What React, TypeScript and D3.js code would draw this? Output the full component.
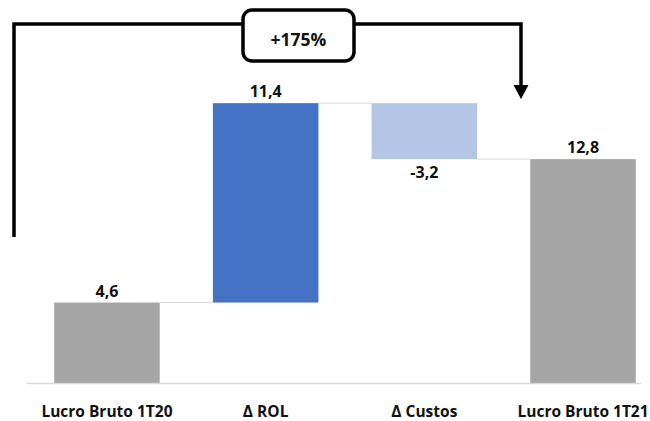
import React from "react";
import * as d3 from "d3";

// Waterfall: Lucro Bruto 1T20 -> 1T21 (R$ mi)
const categories = ["Lucro Bruto 1T20", "Δ ROL", "Δ Custos", "Lucro Bruto 1T21"];
const deltas = [4.6, 11.4, -3.2, 12.8];
const kinds = ["total", "up", "down", "total"];
const valueLabels = ["4,6", "11,4", "-3,2", "12,8"];
const growthLabel = "+175%";

const W = 650;
const H = 421;
const FONT = "'Open Sans', 'Noto Sans', sans-serif";

const colors: Record<string, string> = {
  total: "#a5a5a5",
  up: "#4472c4",
  down: "#b4c7e7",
};

export default function App() {
  const x = d3
    .scaleBand<string>()
    .domain(categories)
    .range([27.6, 662.4])
    .paddingInner(0.335)
    .paddingOuter(0.1675);

  const y = d3.scaleLinear().domain([0, 20]).range([383, 33.2]);

  // running start/end of each step
  let run = 0;
  const steps = categories.map((c, i) => {
    let start: number, end: number;
    if (kinds[i] === "total") {
      start = 0;
      end = deltas[i];
      run = deltas[i];
    } else {
      start = run;
      end = run + deltas[i];
      run = end;
    }
    return { c, i, start, end, kind: kinds[i] };
  });

  const bw = x.bandwidth();

  // bracket arrow geometry (first to last category)
  const topY = 24;
  const leftX = 14;
  const rightX = 521;
  const boxX0 = 243;
  const boxX1 = 354;

  return (
    <svg
      width={W}
      height={H}
      style={{ position: "absolute", left: 0, top: 0, background: "#fff" }}
      fontFamily={FONT}
    >
      {/* connectors */}
      {steps.slice(0, -1).map((s, i) => {
        const level = s.end;
        const x0 = (x(s.c) as number) + bw;
        const x1 = x(categories[i + 1]) as number;
        return (
          <line
            key={"c" + i}
            x1={x0}
            x2={x1}
            y1={y(level)}
            y2={y(level)}
            stroke="#d9d9d9"
            strokeWidth={1}
          />
        );
      })}

      {/* bars */}
      {steps.map((s) => (
        <rect
          key={"b" + s.i}
          x={x(s.c)}
          width={bw}
          y={y(Math.max(s.start, s.end))}
          height={Math.abs(y(s.start) - y(s.end))}
          fill={colors[s.kind]}
        />
      ))}

      {/* baseline */}
      <line x1={27} x2={641} y1={y(0) + 0.5} y2={y(0) + 0.5} stroke="#d9d9d9" strokeWidth={1.5} />

      {/* value labels */}
      {steps.map((s) => {
        const cx = (x(s.c) as number) + bw / 2;
        const below = s.kind === "down";
        const ty = below ? y(Math.min(s.start, s.end)) + 19 : y(Math.max(s.start, s.end)) - 6;
        return (
          <text
            key={"v" + s.i}
            x={cx}
            y={ty}
            textAnchor="middle"
            fontSize={16}
            fontWeight={700}
            fill="#111"
          >
            {valueLabels[s.i]}
          </text>
        );
      })}

      {/* category labels */}
      {categories.map((c) => (
        <text
          key={"l" + c}
          x={(x(c) as number) + bw / 2}
          y={416.5}
          textAnchor="middle"
          fontSize={15.5}
          fontWeight={700}
          fill="#111"
        >
          {c}
        </text>
      ))}

      {/* growth bracket */}
      <path
        d={`M${leftX},237 L${leftX},${topY} L${rightX},${topY} L${rightX},86`}
        fill="none"
        stroke="#000"
        strokeWidth={3.5}
        strokeLinejoin="miter"
      />
      <path d={`M${rightX - 7.5},85 L${rightX + 7.5},85 L${rightX},99 Z`} fill="#000" />
      <rect
        x={boxX0}
        y={10}
        width={boxX1 - boxX0}
        height={51}
        rx={9}
        ry={9}
        fill="#fff"
        stroke="#000"
        strokeWidth={3.5}
      />
      <text
        x={(boxX0 + boxX1) / 2}
        y={46}
        textAnchor="middle"
        fontSize={17.5}
        fontWeight={700}
        fill="#111"
      >
        {growthLabel}
      </text>
    </svg>
  );
}
